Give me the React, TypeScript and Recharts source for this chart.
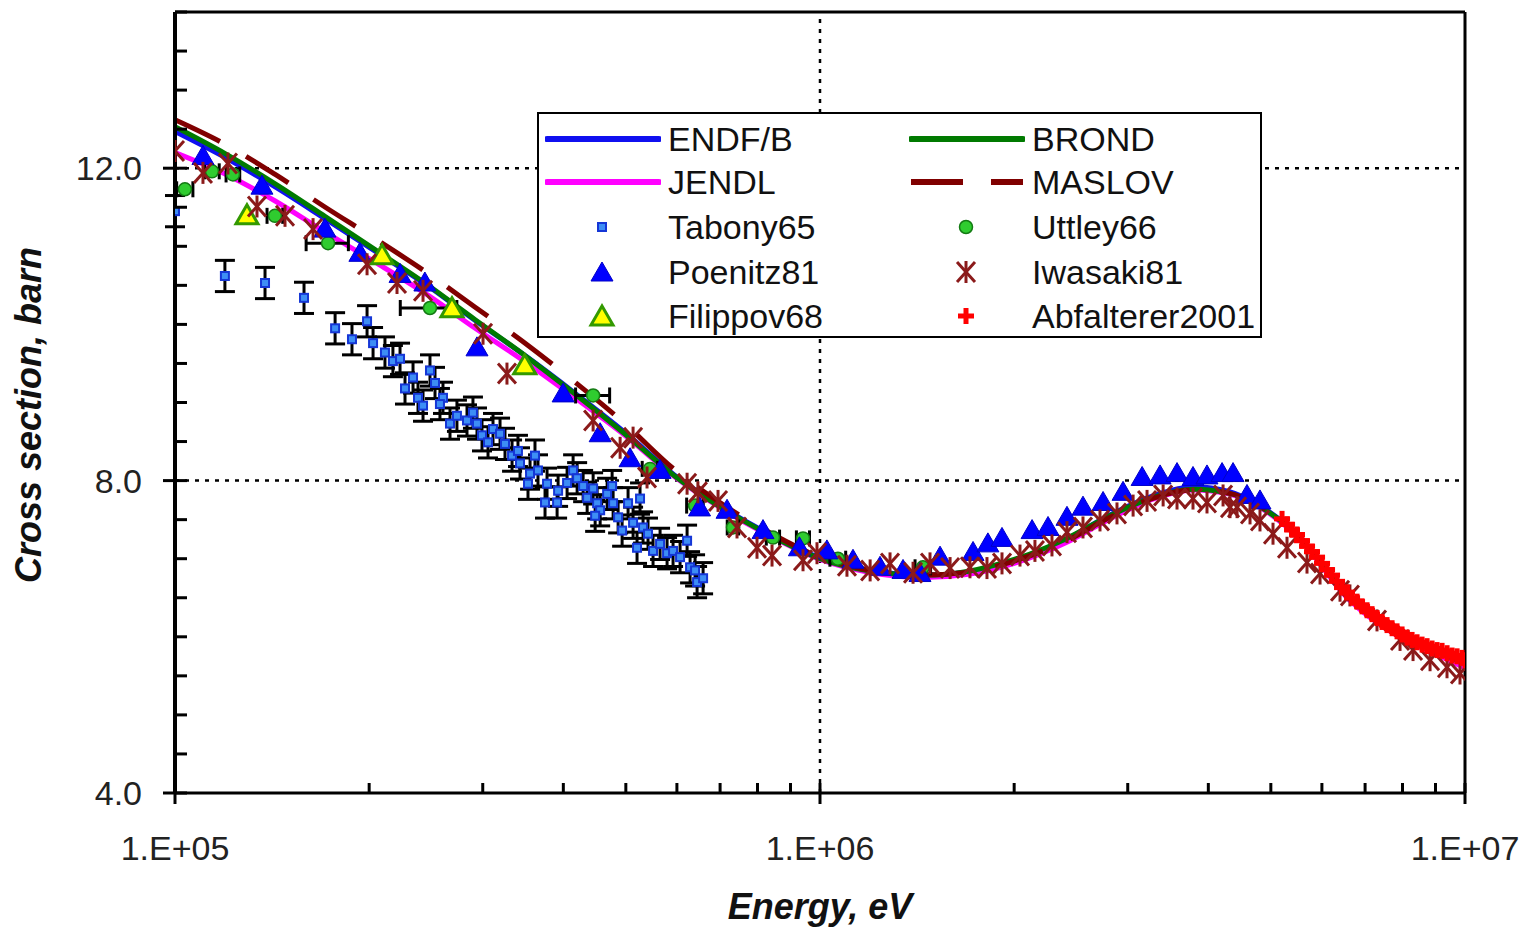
import { ComposedChart, Line, Scatter, XAxis, YAxis, ReferenceLine, ErrorBar, Legend } from "recharts";

const FONT = "'Liberation Sans', Arial, sans-serif";

// axis ticks: energy in eV, cross section in barn
const X_TICKS = [1e5, 2e5, 3e5, 4e5, 5e5, 6e5, 7e5, 8e5, 9e5, 1e6, 2e6, 3e6, 4e6, 5e6, 6e6, 7e6, 8e6, 9e6, 1e7];
const X_MAJOR = [1e5, 1e6, 1e7];
const Y_TICKS = [4, 4.5, 5, 5.5, 6, 6.5, 7, 7.5, 8, 8.5, 9, 9.5, 10, 10.5, 11, 11.5, 12, 12.5, 13, 13.5, 14];
const Y_MAJOR = [4, 8, 12];

// evaluated data libraries (energy grid shared by all four)
const EVAL_E = [
  1.0e5, 1.2e5, 1.43e5, 1.71e5, 2.04e5, 2.44e5, 2.92e5, 3.49e5, 4.17e5, 4.98e5, 5.95e5, 7.11e5, 8.5e5,
  1.0e6, 1.2e6, 1.45e6, 1.7e6, 2.0e6, 2.4e6, 2.8e6, 3.3e6, 3.8e6, 4.3e6, 4.8e6, 5.5e6, 6.6e6, 7.9e6, 9.0e6, 1.0e7,
];
const ENDF = [
  12.47, 12.13, 11.76, 11.35, 10.94, 10.52, 10.05, 9.6, 9.12, 8.62, 8.07, 7.64, 7.28,
  7.01, 6.85, 6.79, 6.83, 6.98, 7.24, 7.55, 7.81, 7.92, 7.86, 7.68, 7.31, 6.52, 6.04, 5.83, 5.67,
];
const JENDL = [
  12.2, 11.92, 11.58, 11.18, 10.8, 10.4, 9.95, 9.52, 9.06, 8.58, 8.05, 7.62, 7.26,
  6.99, 6.82, 6.76, 6.8, 6.94, 7.2, 7.5, 7.77, 7.88, 7.83, 7.66, 7.28, 6.48, 6.0, 5.78, 5.6,
];
const BROND = [
  12.53, 12.18, 11.8, 11.38, 10.96, 10.53, 10.06, 9.6, 9.11, 8.6, 8.06, 7.63, 7.27,
  7.0, 6.84, 6.79, 6.84, 6.99, 7.25, 7.54, 7.79, 7.89, 7.84, 7.67, 7.3, 6.51, 6.03, 5.82, 5.66,
];
const MASLOV = [
  12.62, 12.3, 11.92, 11.5, 11.1, 10.68, 10.22, 9.76, 9.26, 8.73, 8.14, 7.68, 7.3,
  7.02, 6.85, 6.79, 6.83, 6.97, 7.22, 7.52, 7.78, 7.88, 7.84, 7.68, 7.31, 6.52, 6.04, 5.83, 5.67,
];

// measurements: [energy eV, sigma barn, error]
const TABONY65 = [
  [100e3, 11.45, 0.2], [119.5e3, 10.62, 0.2], [137.9e3, 10.53, 0.2], [158.5e3, 10.34, 0.2], [177.1e3, 9.95, 0.2],
  [188.1e3, 9.81, 0.2], [198.5e3, 10.04, 0.2], [202.8e3, 9.76, 0.2], [211.6e3, 9.64, 0.2], [217.7e3, 9.53, 0.2],
  [223.3e3, 9.56, 0.2], [233.9e3, 9.32, 0.2], [227.3e3, 9.18, 0.2], [248.5e3, 9.41, 0.2], [253.0e3, 9.25, 0.2],
  [238.1e3, 9.06, 0.2], [242.4e3, 8.96, 0.2], [260.3e3, 9.06, 0.2], [257.5e3, 8.98, 0.2], [266.9e3, 8.73, 0.2],
  [273.6e3, 8.83, 0.2], [283.6e3, 8.77, 0.2], [289.7e3, 8.87, 0.2], [293.9e3, 8.73, 0.2], [299.2e3, 8.58, 0.2],
  [305.7e3, 8.49, 0.2], [311.2e3, 8.66, 0.2], [319.1e3, 8.6, 0.2], [324.8e3, 8.47, 0.2], [333.1e3, 8.32, 0.2],
  [340.2e3, 8.38, 0.2], [342.7e3, 8.22, 0.2], [355.2e3, 8.09, 0.2], [361.5e3, 8.32, 0.2], [365.4e3, 8.13, 0.2],
  [352.6e3, 7.96, 0.2], [374.7e3, 7.72, 0.2], [377.4e3, 7.96, 0.2], [391.2e3, 7.72, 0.2], [392.6e3, 7.87, 0.2],
  [405.4e3, 7.97, 0.2], [414.2e3, 8.13, 0.2], [420.2e3, 8.03, 0.2], [429.3e3, 7.93, 0.2], [435.5e3, 7.78, 0.2],
  [444.9e3, 7.9, 0.2], [451.3e3, 7.71, 0.2], [456.2e3, 7.62, 0.2], [448.1e3, 7.55, 0.2], [467.7e3, 7.83, 0.2],
  [476.1e3, 7.93, 0.2], [477.8e3, 7.71, 0.2], [486.4e3, 7.53, 0.2], [493.4e3, 7.36, 0.2], [504.0e3, 7.71, 0.2],
  [513.1e3, 7.46, 0.2], [526.0e3, 7.77, 0.2], [520.4e3, 7.14, 0.2], [531.7e3, 7.4, 0.2], [541.2e3, 7.32, 0.2],
  [551.0e3, 7.1, 0.2], [565.0e3, 7.19, 0.2], [579.3e3, 7.07, 0.2], [591.8e3, 7.1, 0.2], [606.8e3, 7.02, 0.2],
  [622.2e3, 7.23, 0.2], [628.9e3, 6.89, 0.2], [640.2e3, 6.85, 0.2], [644.8e3, 6.7, 0.2], [658.8e3, 6.75, 0.2],
];

const UTTLEY66 = [
  [103.6e3, 11.73, 3e3], [114.1e3, 11.96, 3e3], [123.0e3, 11.92, 3e3], [142.9e3, 11.39, 4e3],
  [172.7e3, 11.04, 13e3], [248.5e3, 10.21, 25e3], [444.9e3, 9.09, 27e3], [545.1e3, 8.15, 15e3],
  [640.2e3, 7.68, 19e3], [733.1e3, 7.4, 15e3], [845.6e3, 7.27, 20e3], [941.2e3, 7.26, 22e3],
  [1066e3, 7.0, 30e3], [1444e3, 6.89, 40e3],
];

const POENITZ81 = [
  [110.5e3, 12.15], [136.4e3, 11.77], [170.8e3, 11.22], [193.5e3, 10.91], [223.3e3, 10.64], [244.0e3, 10.53],
  [293.9e3, 9.7], [399.7e3, 9.11], [456.2e3, 8.6], [507.6e3, 8.28], [565.0e3, 8.13], [650.5e3, 7.65],
  [717.6e3, 7.62], [815.9e3, 7.36], [929e3, 7.14], [1025e3, 7.1], [1125e3, 6.98], [1239e3, 6.89],
  [1345e3, 6.85], [1429e3, 6.81], [1535e3, 7.02], [1727e3, 7.08], [1821e3, 7.19], [1915e3, 7.26],
  [2132e3, 7.36], [2257e3, 7.4], [2415e3, 7.53], [2557e3, 7.66], [2747e3, 7.72], [2950e3, 7.85],
  [3158e3, 8.04], [3367e3, 8.06], [3577e3, 8.09], [3787e3, 8.04], [3981e3, 8.06], [4201e3, 8.09],
  [4369e3, 8.09], [4592e3, 7.81], [4810e3, 7.74],
];

const FILIPPOV68 = [[129.3e3, 11.39], [209.4e3, 10.88], [268.8e3, 10.2], [348.5e3, 9.47]];

const IWASAKI81 = [
  [100e3, 12.22], [110.5e3, 11.94], [120.8e3, 12.06], [134.0e3, 11.51], [148.1e3, 11.39], [163.7e3, 11.22],
  [198.5e3, 10.77], [220.9e3, 10.53], [242.4e3, 10.43], [300.3e3, 9.88], [327.1e3, 9.37], [444.9e3, 8.77],
  [489.9e3, 8.42], [513.1e3, 8.55], [539.3e3, 8.04], [622.2e3, 7.96], [646.7e3, 7.85], [694.9e3, 7.74],
  [743.6e3, 7.4], [798.6e3, 7.14], [842.6e3, 7.04], [941.2e3, 6.98], [989.3e3, 7.07], [1101e3, 6.91],
  [1196e3, 6.85], [1284e3, 6.94], [1394e3, 6.82], [1481e3, 6.94], [1591e3, 6.88], [1708e3, 6.89],
  [1815e3, 6.88], [1915e3, 6.94], [2042e3, 7.04], [2154e3, 7.1], [2289e3, 7.17], [2415e3, 7.34],
  [2557e3, 7.4], [2717e3, 7.49], [2887e3, 7.58], [3058e3, 7.68], [3214e3, 7.74], [3404e3, 7.81],
  [3577e3, 7.77], [3787e3, 7.77], [3981e3, 7.72], [4216e3, 7.81], [4322e3, 7.66], [4432e3, 7.66],
  [4642e3, 7.58], [4810e3, 7.49], [5039e3, 7.32], [5297e3, 7.14], [5689e3, 6.95], [5960e3, 6.81],
  [6401e3, 6.59], [6631e3, 6.53], [7304e3, 6.21], [7930e3, 5.96], [8307e3, 5.83], [8827e3, 5.7],
  [9378e3, 5.61], [9823e3, 5.53],
];

const ABFALTERER2001 = [
  [5.204e6, 7.51], [5.298e6, 7.44], [5.393e6, 7.37], [5.49e6, 7.31], [5.589e6, 7.23], [5.69e6, 7.16],
  [5.792e6, 7.09], [5.897e6, 7.02], [6.003e6, 6.94], [6.111e6, 6.86], [6.221e6, 6.79], [6.333e6, 6.71],
  [6.447e6, 6.63], [6.563e6, 6.57], [6.682e6, 6.5], [6.802e6, 6.45], [6.925e6, 6.39], [7.049e6, 6.34],
  [7.176e6, 6.29], [7.306e6, 6.24], [7.437e6, 6.19], [7.571e6, 6.15], [7.708e6, 6.11], [7.846e6, 6.07],
  [7.988e6, 6.03], [8.132e6, 5.99], [8.278e6, 5.96], [8.427e6, 5.93], [8.579e6, 5.9], [8.734e6, 5.88],
  [8.891e6, 5.85], [9.051e6, 5.83], [9.214e6, 5.82], [9.38e6, 5.79], [9.549e6, 5.76], [9.721e6, 5.75],
  [9.896e6, 5.73], [1.0e7, 5.7],
];

const LEGEND_ROWS = [
  ["ENDF/B", "BROND"],
  ["JENDL", "MASLOV"],
  ["Tabony65", "Uttley66"],
  ["Poenitz81", "Iwasaki81"],
  ["Filippov68", "Abfalterer2001"],
];

const evalSeries = (ys: number[]) => EVAL_E.map((x, i) => ({ x, y: ys[i] }));
const points = (rows: number[][]) => rows.map(([x, y, e]) => ({ x, y, e }));

// ---------- markers ----------
const SquareMark = ({ cx, cy }: any) => (
  <rect x={cx - 4} y={cy - 4} width={8} height={8} fill="#3d8ef5" stroke="#1536d6" strokeWidth={2} />
);
const CircleMark = ({ cx, cy }: any) => (
  <circle cx={cx} cy={cy} r={6.5} fill="#2fcc2f" stroke="#137a13" strokeWidth={1.5} />
);
const BlueTriangle = ({ cx, cy }: any) => (
  <polygon points={`${cx},${cy - 11} ${cx - 11},${cy + 8} ${cx + 11},${cy + 8}`} fill="#0000ff" stroke="#0000c8" strokeWidth={1} />
);
const YellowTriangle = ({ cx, cy }: any) => (
  <polygon points={`${cx},${cy - 11} ${cx - 11},${cy + 8} ${cx + 11},${cy + 8}`} fill="#ffff00" stroke="#339900" strokeWidth={3} />
);
const Asterisk = ({ cx, cy }: any) => (
  <g stroke="#8b1a1a" strokeWidth={3}>
    <line x1={cx - 9} y1={cy - 10} x2={cx + 9} y2={cy + 10} />
    <line x1={cx + 9} y1={cy - 10} x2={cx - 9} y2={cy + 10} />
    <line x1={cx} y1={cy - 11} x2={cx} y2={cy + 11} />
  </g>
);
const PlusMark = ({ cx, cy }: any) => (
  <g stroke="#ff0000" strokeWidth={5}>
    <line x1={cx - 8} y1={cy} x2={cx + 8} y2={cy} />
    <line x1={cx} y1={cy - 8} x2={cx} y2={cy + 8} />
  </g>
);

// ---------- ticks ----------
const expLabel = (v: number) => {
  const p = Math.round(Math.log10(v));
  return `1.E+${String(p).padStart(2, "0")}`;
};

const XTick = ({ x, y, payload }: any) => {
  const v = payload.value;
  const major = X_MAJOR.includes(v);
  return (
    <g>
      <line x1={x} x2={x} y1={major ? y + 11 : y} y2={y - 10} stroke="#000" strokeWidth={3} />
      {major && (
        <text x={x} y={y + 67} textAnchor="middle" fontSize={34} fontFamily={FONT} fill="#222">
          {expLabel(v)}
        </text>
      )}
    </g>
  );
};

const YTick = ({ x, y, payload }: any) => {
  const v = payload.value;
  const major = Y_MAJOR.includes(v);
  return (
    <g>
      <line x1={major ? x - 12 : x} x2={x + 12} y1={y} y2={y} stroke="#000" strokeWidth={3} />
      {major && (
        <text x={x - 33} y={y + 12} textAnchor="end" fontSize={34} fontFamily={FONT} fill="#222">
          {v.toFixed(1)}
        </text>
      )}
    </g>
  );
};

const titleStyle = { fontFamily: FONT, fontSize: 36, fontWeight: "bold", fontStyle: "italic", fill: "#111" } as const;

const XTitle = () => (
  <text x={820} y={919} textAnchor="middle" style={titleStyle}>
    Energy, eV
  </text>
);
const YTitle = () => (
  <text x={41} y={415} textAnchor="middle" transform="rotate(-90 41 415)" style={titleStyle}>
    Cross section, barn
  </text>
);

// ---------- legend ----------
function LegendIcon({ name }: { name: string }) {
  const mid = 57;
  let body = null;
  if (name === "ENDF/B") body = <line x1={2} x2={114} y1={20} y2={20} stroke="#1010f0" strokeWidth={6} strokeLinecap="round" />;
  if (name === "JENDL") body = <line x1={2} x2={114} y1={20} y2={20} stroke="#ff00ff" strokeWidth={6} strokeLinecap="round" />;
  if (name === "BROND") body = <line x1={2} x2={114} y1={20} y2={20} stroke="#007a00" strokeWidth={6} strokeLinecap="round" />;
  if (name === "MASLOV") body = <line x1={2} x2={114} y1={20} y2={20} stroke="#800000" strokeWidth={6} strokeDasharray="52 28" />;
  if (name === "Tabony65") body = <SquareMark cx={mid} cy={20} />;
  if (name === "Uttley66") body = <CircleMark cx={mid} cy={20} />;
  if (name === "Poenitz81") body = <BlueTriangle cx={mid} cy={21} />;
  if (name === "Iwasaki81") body = <Asterisk cx={mid} cy={20} />;
  if (name === "Filippov68") body = <YellowTriangle cx={mid} cy={21} />;
  if (name === "Abfalterer2001") body = <PlusMark cx={mid} cy={20} />;
  return (
    <svg width={116} height={40} style={{ display: "block" }}>
      {body}
    </svg>
  );
}

const ROW_CENTERS = [25, 68, 113, 158, 202];

function LegendBox() {
  return (
    <div
      style={{
        position: "relative",
        width: 725,
        height: 226,
        boxSizing: "border-box",
        border: "2px solid #000",
        background: "#fff",
        fontFamily: FONT,
        fontSize: 34,
        color: "#111",
      }}
    >
      {LEGEND_ROWS.map((row, r) =>
        row.map((name, c) => (
          <div key={name}>
            <div style={{ position: "absolute", left: c === 0 ? 6 : 370, top: ROW_CENTERS[r] - 20 }}>
              <LegendIcon name={name} />
            </div>
            <div
              style={{
                position: "absolute",
                left: c === 0 ? 129 : 493,
                top: ROW_CENTERS[r] - 20,
                height: 40,
                lineHeight: "40px",
                whiteSpace: "nowrap",
              }}
            >
              {name}
            </div>
          </div>
        ))
      )}
    </div>
  );
}

export default function App() {
  return (
    <div style={{ position: "absolute", left: 0, top: 0, width: 1539, height: 929, background: "#fff" }}>
      <ComposedChart width={1539} height={929} margin={{ top: 12, right: 74, bottom: 0, left: 0 }}>
        <XAxis
          dataKey="x"
          type="number"
          scale="log"
          domain={[1e5, 1e7]}
          allowDataOverflow
          ticks={X_TICKS}
          interval={0}
          height={136}
          tickSize={0}
          tickMargin={0}
          tickLine={false}
          axisLine={{ stroke: "#000", strokeWidth: 3 }}
          tick={<XTick />}
          label={{ content: XTitle }}
        />
        <YAxis
          dataKey="y"
          type="number"
          domain={[4, 14]}
          allowDataOverflow
          ticks={Y_TICKS}
          interval={0}
          width={175}
          tickSize={0}
          tickMargin={0}
          tickLine={false}
          axisLine={{ stroke: "#000", strokeWidth: 4 }}
          tick={<YTick />}
          label={{ content: YTitle }}
        />
        <ReferenceLine y={8} stroke="#000" strokeWidth={2.5} strokeDasharray="4 6" />
        <ReferenceLine y={12} stroke="#000" strokeWidth={2.5} strokeDasharray="4 6" />
        <ReferenceLine x={1e6} stroke="#000" strokeWidth={2.5} strokeDasharray="4 6" />
        <ReferenceLine y={14} stroke="#000" strokeWidth={3} />
        <ReferenceLine x={1e7} stroke="#000" strokeWidth={3} />

        <Line data={evalSeries(ENDF)} dataKey="y" type="monotone" stroke="#1010f0" strokeWidth={5} dot={false} activeDot={false} isAnimationActive={false} />
        <Line data={evalSeries(JENDL)} dataKey="y" type="monotone" stroke="#ff00ff" strokeWidth={5} dot={false} activeDot={false} isAnimationActive={false} />
        <Line data={evalSeries(BROND)} dataKey="y" type="monotone" stroke="#007a00" strokeWidth={5} dot={false} activeDot={false} isAnimationActive={false} />
        <Line data={evalSeries(MASLOV)} dataKey="y" type="monotone" stroke="#800000" strokeWidth={5} strokeDasharray="50 30" dot={false} activeDot={false} isAnimationActive={false} />

        <Scatter data={points(TABONY65)} dataKey="y" shape={SquareMark} isAnimationActive={false}>
          <ErrorBar dataKey="e" direction="y" width={10} stroke="#000" strokeWidth={3} />
        </Scatter>
        <Scatter data={points(UTTLEY66)} dataKey="y" shape={CircleMark} isAnimationActive={false}>
          <ErrorBar dataKey="e" direction="x" width={8} stroke="#000" strokeWidth={3} />
        </Scatter>
        <Scatter data={points(POENITZ81)} dataKey="y" shape={BlueTriangle} isAnimationActive={false} />
        <Scatter data={points(FILIPPOV68)} dataKey="y" shape={YellowTriangle} isAnimationActive={false} />
        <Scatter data={points(IWASAKI81)} dataKey="y" shape={Asterisk} isAnimationActive={false} />
        <Scatter data={points(ABFALTERER2001)} dataKey="y" shape={PlusMark} isAnimationActive={false} />

        <Legend
          layout="horizontal"
          verticalAlign="middle"
          align="center"
          content={() => <LegendBox />}
          wrapperStyle={{ left: 537, top: 112, width: 725, height: 226 }}
        />
      </ComposedChart>
    </div>
  );
}
